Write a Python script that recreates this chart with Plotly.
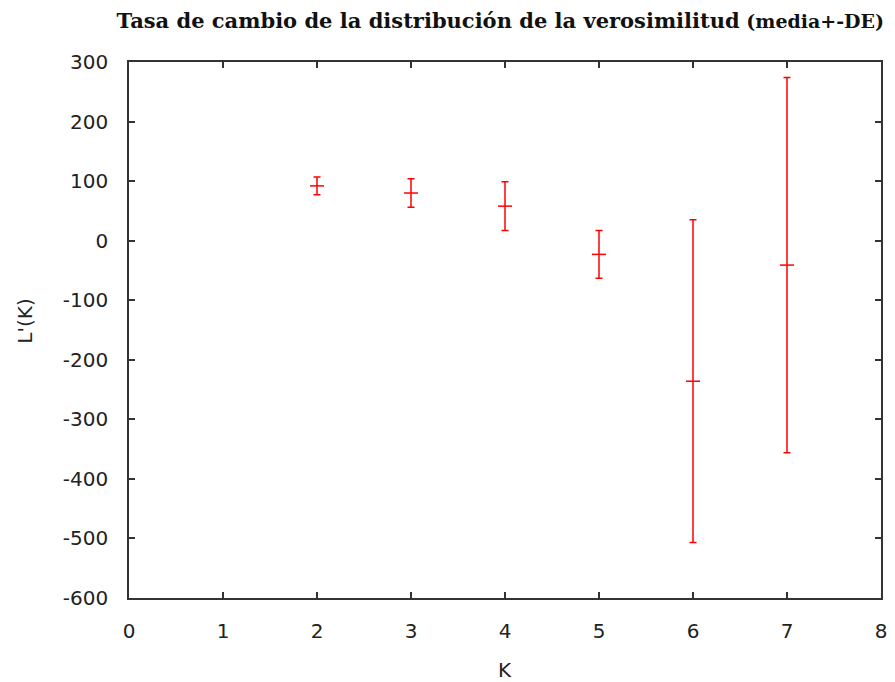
import plotly.graph_objects as go

k_values = [2, 3, 4, 5, 6, 7]
mean_values = [92, 80, 58, -23, -236, -41]
sd_values = [15, 24, 41, 40, 271, 315]

x_ticks = [0, 1, 2, 3, 4, 5, 6, 7, 8]
y_ticks = [300, 200, 100, 0, -100, -200, -300, -400, -500, -600]
y_tick_text = ["300", "200", "100", "0", "-100", "-200", "-300", "-400", "-500", "-600"]

fig = go.Figure()
fig.add_trace(go.Scatter(
    x=k_values, y=mean_values,
    mode="markers",
    marker=dict(symbol="line-ew", size=10, color="red",
                line=dict(color="red", width=1.5)),
    error_y=dict(type="data", array=sd_values, visible=True,
                 color="red", thickness=1.5, width=3.5),
    showlegend=False,
))

tick_font = dict(family="DejaVu Sans", size=20, color="#222222")
axis_common = dict(
    showline=True, linecolor="#333333", linewidth=1.5, mirror="ticks",
    ticks="inside", ticklen=6, tickwidth=1.5, tickcolor="#333333",
    showgrid=False, zeroline=False, automargin=False,
    tickfont=tick_font,
)

label_font = dict(family="DejaVu Sans", size=20, color="#222222")

fig.update_layout(
    width=895, height=682,
    margin=dict(l=129, r=14, t=62, b=84),
    paper_bgcolor="white", plot_bgcolor="white",
    title=dict(
        text="<b>Tasa de cambio de la distribución de la verosimilitud</b><b><span style='font-size:19px'> (media+-DE)</span></b>",
        x=0.559, xanchor="center", y=0.97, yanchor="middle",
        font=dict(family="DejaVu Serif", size=21, color="#111111"),
    ),
    xaxis=dict(range=[0, 8], tickvals=x_ticks, ticklabelstandoff=14, **axis_common),
    yaxis=dict(range=[-600, 300], tickvals=y_ticks, ticktext=y_tick_text,
               ticklabelstandoff=15, **axis_common),
    annotations=[
        dict(text="K", xref="paper", yref="paper", x=0.5, y=-0.1346,
             xanchor="center", yanchor="middle", showarrow=False, font=label_font),
        dict(text="L'(K)", xref="paper", yref="paper", x=-0.138, y=0.516,
             xanchor="center", yanchor="middle", showarrow=False, textangle=-90,
             font=label_font),
    ],
)

fig.write_html("out.html")
